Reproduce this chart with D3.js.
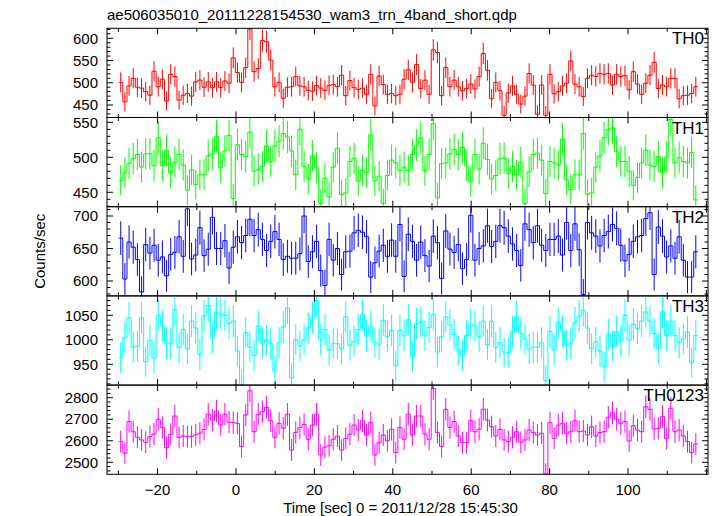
<!DOCTYPE html>
<html><head><meta charset="utf-8">
<script src="https://cdn.jsdelivr.net/npm/d3@7/dist/d3.min.js"></script>
<style>body{margin:0;background:#fff}svg text{font-family:"Liberation Sans",Arial,Helvetica,sans-serif;fill:#000}</style>
</head><body>
<script>
// ---------------- data ----------------
const titleText = "ae506035010_20111228154530_wam3_trn_4band_short.qdp";
const xLabelText = "Time [sec] 0 = 2011/12/28 15:45:30";
const yLabelText = "Counts/sec";
const binStart = -29.4;         // centre of first bin (sec)
const binWidth = 1.063;         // bin width (sec)
const panelNames = ["TH0", "TH1", "TH2", "TH3", "TH0123"];
const xTickLabels = [-20, 0, 20, 40, 60, 80, 100];
const yTickLabels = [[450, 500, 550, 600], [450, 500, 550], [600, 650, 700], [950, 1000, 1050], [2500, 2600, 2700, 2800]];

const th0 = [501,457,493,510,490,488,480,472,526,491,508,459,519,514,461,472,476,470,502,506,490,502,489,502,489,504,499,
 556,523,501,534,621,525,532,595,592,551,491,501,465,490,491,514,493,491,483,481,494,488,483,494,496,491,517,471,505,489,485,488,474,519,448,515,496,474,476,471,474,508,529,
 501,541,487,506,474,574,568,471,534,491,506,491,482,487,497,486,514,566,528,464,501,482,427,477,493,474,452,470,521,495,429,495,427,519,475,480,493,499,549,497,491,469,510,517,514,521,519,521,495,519,514,516,484,525,497,474,499,517,546,487,495,491,510,510,464,471,472,476,491];
const th1 = [467,478,491,498,504,486,505,505,488,528,488,510,478,493,504,489,453,482,461,475,475,502,505,530,485,509,531,
 441,518,504,501,536,480,483,487,516,494,516,523,534,529,509,475,540,487,469,502,485,434,470,443,486,513,447,449,494,498,466,481,478,532,466,473,434,474,496,492,481,486,481,
 504,517,528,481,504,548,442,491,492,505,511,504,514,488,465,504,483,520,497,469,474,498,499,477,487,475,493,434,479,504,506,496,448,494,492,489,526,468,454,475,475,534,447,449,486,502,528,540,542,508,494,494,480,460,471,492,510,489,487,501,478,500,554,492,500,494,492,507,439];
const th2 = [666,603,660,652,633,583,656,643,655,632,637,608,641,644,668,638,711,634,640,682,639,649,698,650,650,662,620,
 652,668,659,670,695,670,679,664,647,661,676,664,633,638,635,635,642,700,630,645,661,616,593,664,632,650,610,645,646,674,678,675,668,606,628,646,655,638,663,638,687,607,
 672,661,632,660,639,623,669,659,604,677,649,644,656,619,633,701,632,650,654,685,653,661,685,682,669,657,647,624,688,679,659,685,655,647,664,664,669,640,690,647,688,648,579,690,674,669,654,670,676,687,681,655,631,641,661,668,670,696,705,610,683,669,637,654,635,668,632,606,606,645];
const th3 = [963,1004,1045,985,987,1045,955,999,963,1050,1028,992,992,1062,984,1021,981,1038,1024,970,1049,1070,1004,1055,1052,1050,1033,
 1038,977,909,1015,985,968,1028,994,999,992,936,994,1026,1065,922,1000,987,1000,1024,1045,1080,1000,1021,979,992,992,982,1047,989,997,1021,1051,1008,1028,994,991,1040,1007,1019,947,
 1019,1008,1041,965,1033,1036,1008,1025,1052,975,1006,1047,1030,1011,979,968,1009,1032,1028,1006,1038,990,1038,984,994,975,974,1017,1047,1013,1002,981,985,985,994,917,1017,979,1035,1017,989,992,1035,1048,1060,1024,982,996,977,945,1011,987,1017,997,1050,999,1032,1023,1038,1057,1038,1013,982,1057,1009,1038,1009,994,1002,1016,953,1009];
const th0123 = [2596,2542,2689,2642,2616,2604,2593,2619,2631,2700,2661,2568,2630,2715,2616,2622,2619,2619,2627,2635,2653,2723,2696,2738,2673,2723,2686,
 2684,2681,2573,2720,2832,2642,2723,2735,2755,2693,2616,2681,2658,2723,2557,2639,2661,2676,2607,2673,2723,2534,2570,2577,2607,2622,2557,2611,2631,2673,2650,2693,2627,2684,2534,2591,2627,2600,2653,2545,
 2661,2607,2723,2627,2715,2715,2631,2607,2843,2639,2573,2746,2662,2689,2622,2591,2591,2693,2642,2653,2746,2696,2665,2622,2653,2604,2596,2616,2642,2593,2604,2650,2638,2627,2635,2446,2684,2611,2673,2681,2635,2642,2693,2642,2645,2627,2665,2622,2638,2642,2709,2730,2700,2681,2689,2599,2670,2650,2642,2758,2746,2655,2658,2712,2611,2751,2642,2650,2622,2596,2545,2585];
const seriesValues = [th0, th1, th2, th3, th0123];

// ---------------- layout / style ----------------
const W = 717, H = 516;
const left = 107, right = 708, top0 = 28.3, panelH = 89.2;
const colors = ["#ff0000", "#00ff00", "#0000ff", "#00ffff", "#ff00ff"];
const yDomains = [[421.9, 622.5], [429.4, 556.9], [577.1, 714.3], [907.5, 1089.6], [2444.3, 2858.5]];
const yMinorStep = [10, 10, 10, 10, 20];
const xDomain = [-32.9, 120.4];

const svg = d3.select("body").append("svg").attr("width", W).attr("height", H);
const x = d3.scaleLinear().domain(xDomain).range([left, right]);
const xMajor = d3.range(-20, 121, 20), xMinor = d3.range(-30, 121, 10).filter(v => v % 20 !== 0);

svg.append("text").attr("x", left).attr("y", 20).attr("font-size", 15).text(titleText);

seriesValues.forEach((vals, i) => {
  const pt = top0 + i * panelH, pb = pt + panelH;
  const y = d3.scaleLinear().domain(yDomains[i]).range([pb, pt]);
  const g = svg.append("g");
  const cid = "clip" + i;
  svg.append("clipPath").attr("id", cid).append("rect")
    .attr("x", left).attr("y", pt).attr("width", right - left).attr("height", panelH);
  const times = vals.map((v, k) => binStart + k * binWidth);
  const n = vals.length;
  const pts = [[times[0] - binWidth / 2, vals[0]]].concat(times.map((t, k) => [t, vals[k]]), [[times[n - 1] + binWidth / 2, vals[n - 1]]]);
  const line = d3.line().x(d => x(d[0])).y(d => y(d[1])).curve(d3.curveStep);
  const dg = g.append("g").attr("clip-path", `url(#${cid})`);
  dg.append("path").attr("d", line(pts)).attr("fill", "none").attr("stroke", colors[i]).attr("stroke-width", 1);
  dg.selectAll("line.err").data(times).join("line")
    .attr("x1", t => x(t)).attr("x2", t => x(t))
    .attr("y1", (t, k) => y(vals[k] - Math.sqrt(vals[k])))
    .attr("y2", (t, k) => y(vals[k] + Math.sqrt(vals[k])))
    .attr("stroke", colors[i]).attr("stroke-width", 1);

  // frame
  g.append("rect").attr("x", left).attr("y", pt).attr("width", right - left).attr("height", panelH)
    .attr("fill", "none").attr("stroke", "#000").attr("stroke-width", 1);

  // x ticks (top & bottom, inward)
  const tk = g.append("g").attr("stroke", "#000").attr("stroke-width", 1);
  const xt = xMajor.map(v => [v, 6]).concat(xMinor.map(v => [v, 3.5]));
  xt.forEach(([v, L]) => {
    tk.append("line").attr("x1", x(v)).attr("x2", x(v)).attr("y1", pb).attr("y2", pb - L);
    tk.append("line").attr("x1", x(v)).attr("x2", x(v)).attr("y1", pt).attr("y2", pt + L);
  });
  // y ticks
  const [d0, d1] = yDomains[i];
  const ms = yMinorStep[i], majStep = yTickLabels[i][1] - yTickLabels[i][0];
  d3.range(Math.ceil(d0 / ms) * ms, d1, ms).forEach(v => {
    const L = (Math.round(v) % majStep === 0) ? 6 : 3.5;
    tk.append("line").attr("x1", left).attr("x2", left + L).attr("y1", y(v)).attr("y2", y(v));
    tk.append("line").attr("x1", right).attr("x2", right - L).attr("y1", y(v)).attr("y2", y(v));
  });
  yTickLabels[i].forEach(v => {
    g.append("text").attr("x", left - 9).attr("y", y(v)).attr("dy", "0.35em")
      .attr("text-anchor", "end").attr("font-size", 15).text(v);
  });
  g.append("text").attr("x", right - 4).attr("y", pt + 16).attr("text-anchor", "end")
    .attr("font-size", 17).text(panelNames[i]);
});

const bottom = top0 + 5 * panelH;
xTickLabels.forEach(v => {
  svg.append("text").attr("x", x(v)).attr("y", bottom + 21).attr("text-anchor", "middle")
    .attr("font-size", 15).text(v < 0 ? "\u2212" + Math.abs(v) : v);
});
svg.append("text").attr("x", (left + right) / 2 - 7).attr("y", 513).attr("text-anchor", "middle")
  .attr("font-size", 15).text(xLabelText);
svg.append("text").attr("transform", `translate(45,${top0 + 2.5 * panelH}) rotate(-90)`)
  .attr("text-anchor", "middle").attr("font-size", 15).text(yLabelText);
</script>
</body></html>
